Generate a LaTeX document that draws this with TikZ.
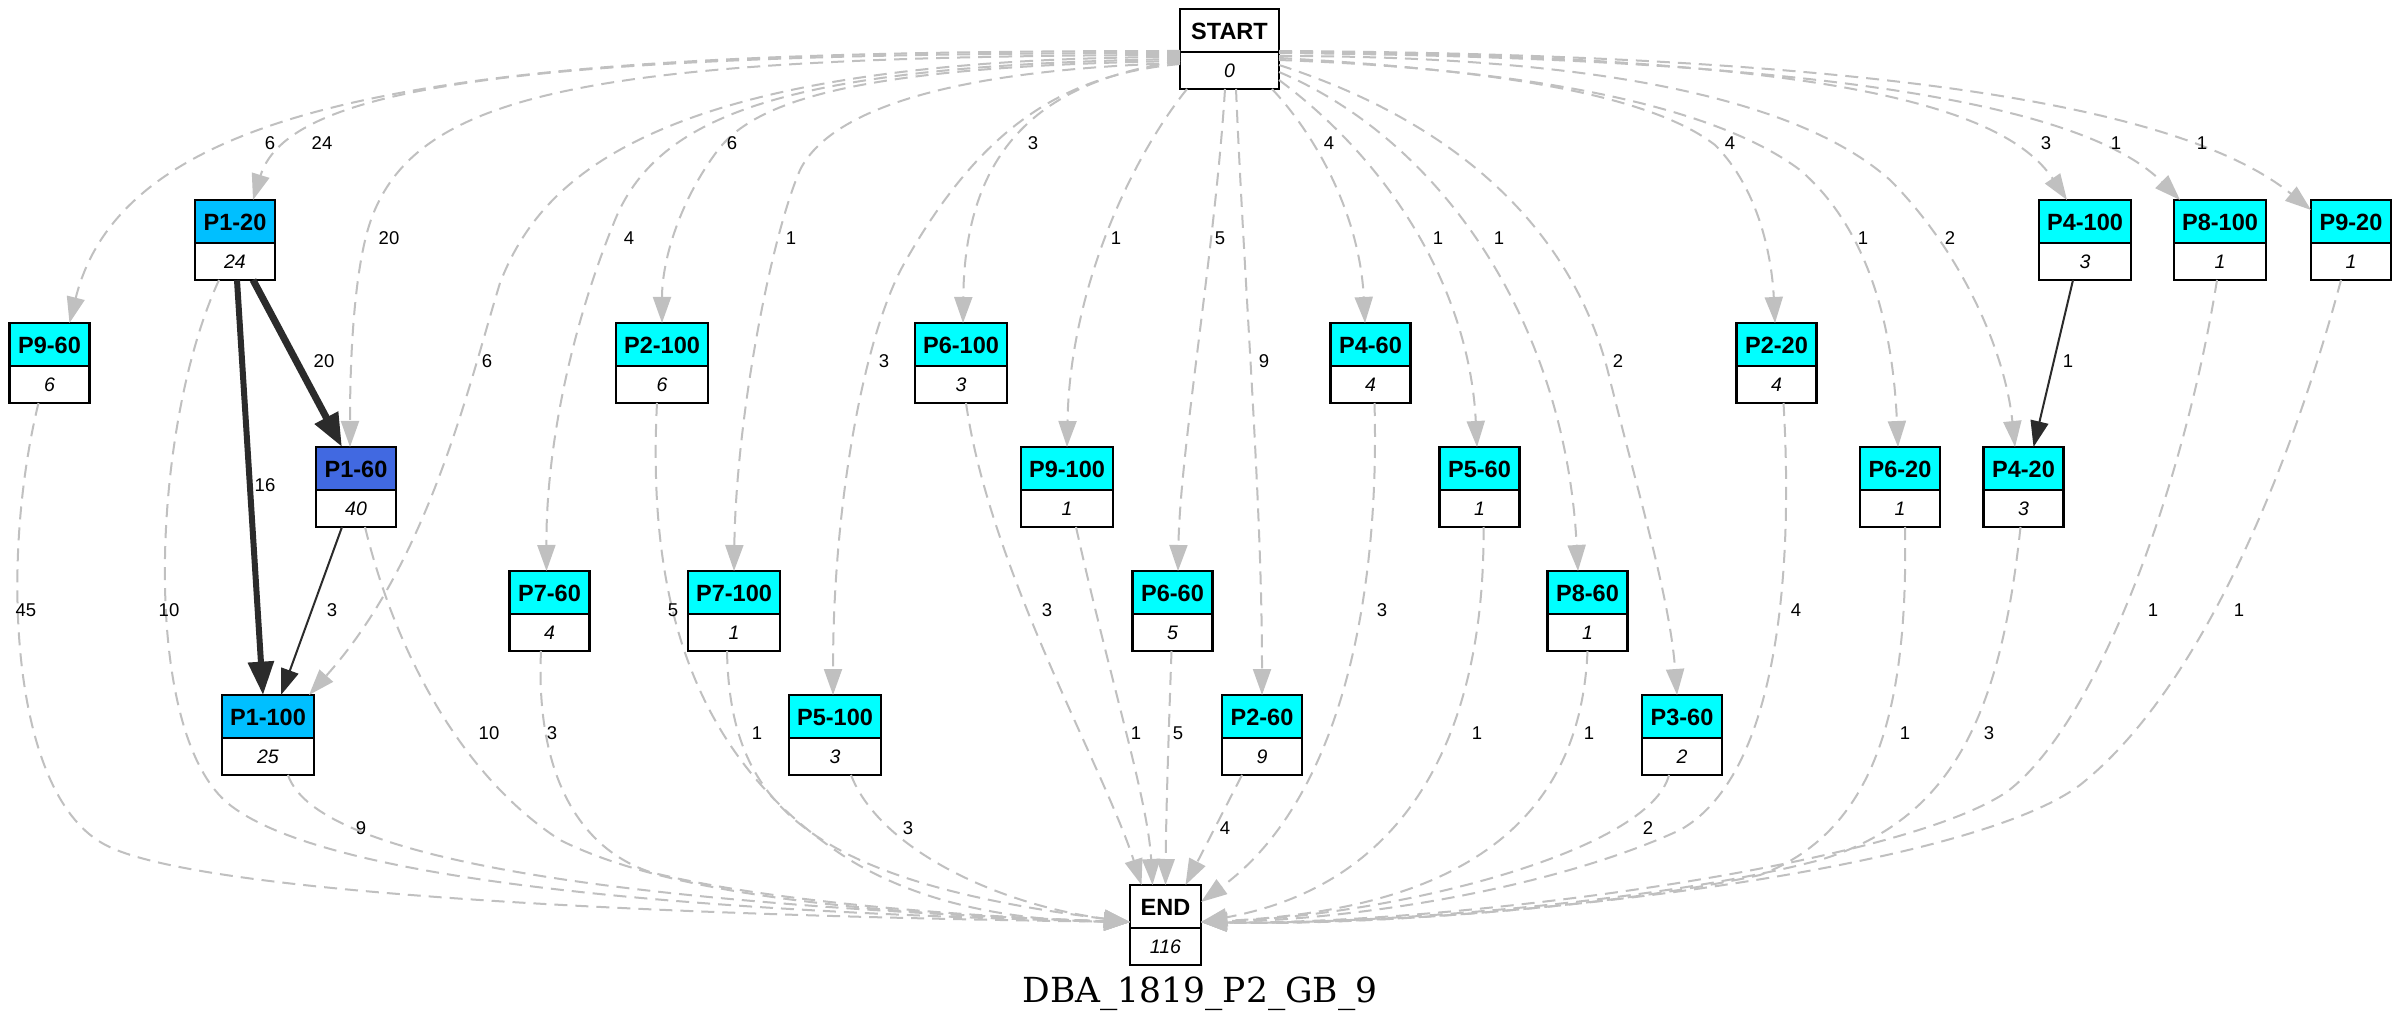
\documentclass[tikz,border=0pt]{standalone}
\usepackage{fontspec}
\newfontfamily\lsans{Liberation Sans}
\newfontfamily\dserif{DejaVu Serif}
\usetikzlibrary{arrows.meta,calc}
\definecolor{gedgec}{HTML}{C0C0C0}
\definecolor{dedgec}{HTML}{2B2B2B}
\definecolor{cyanfill}{HTML}{00FFFF}
\definecolor{deepsky}{HTML}{00BFFF}
\definecolor{royal}{HTML}{4169E1}
\tikzset{
  boxanchor/.style={anchor=north, inner sep=0, outer sep=0, minimum height=24bp},
  boxline/.style={draw=black, line width=0.75bp},
  lab/.style={font=\lsans\bfseries\fontsize{7.05bp}{8bp}\selectfont, inner sep=0},
  val/.style={font=\lsans\itshape\fontsize{5.85bp}{7bp}\selectfont, inner sep=0},
  elab/.style={font=\lsans\fontsize{5.55bp}{6.5bp}\selectfont, inner sep=0},
  ttl/.style={font=\dserif\fontsize{10.35bp}{12bp}\selectfont, inner sep=0, anchor=base},
  gedge/.style={draw=gedgec, line width=0.6bp, dash pattern=on 3.9bp off 2.4bp, -{Triangle[length=7.8bp,width=5.4bp]}},
  dedge/.style={draw=dedgec, line width=0.6bp, -{Triangle[length=7.8bp,width=5.4bp]}},
  hedge/.style={draw=dedgec, -{Triangle[length=10bp,width=7.5bp]}}
}
\newcommand{\mkbox}[7]{%
  \node[boxanchor, minimum width={#4*0.3bp}] (#1) at (#2,#3) {};
  \draw[boxline, fill=#5] (#1.north west) rectangle ($(#1.north east)+(0,43)$);
  \draw[boxline, fill=white] ($(#1.north west)+(0,43)$) rectangle (#1.south east);
  \node[lab] (#1l) at ($(#1.north)+(0,22)$) {#6};
  \node[val] (#1v) at ($(#1.north)+(0,61.5)$) {#7};
}
\begin{document}
\begin{tikzpicture}[x=0.3bp, y=-0.3bp]
\useasboundingbox (0,0) rectangle (2400,1032);
\fill[white] (0,0) rectangle (2400,1032);

% nodes
\mkbox{START}{1229.5}{9}{99}{white}{START}{0}
\mkbox{p1m20}{235}{200}{80}{deepsky}{P1-20}{24}
\mkbox{p4m100}{2085}{200}{92}{cyanfill}{P4-100}{3}
\mkbox{p8m100}{2220}{200}{92}{cyanfill}{P8-100}{1}
\mkbox{p9m20}{2351}{200}{80}{cyanfill}{P9-20}{1}
\mkbox{p9m60}{49.5}{323}{80}{cyanfill}{P9-60}{6}
\mkbox{p2m100}{662}{323}{92}{cyanfill}{P2-100}{6}
\mkbox{p6m100}{961}{323}{92}{cyanfill}{P6-100}{3}
\mkbox{p4m60}{1370.5}{323}{80}{cyanfill}{P4-60}{4}
\mkbox{p2m20}{1776.5}{323}{80}{cyanfill}{P2-20}{4}
\mkbox{p1m60}{356}{447}{80}{royal}{P1-60}{40}
\mkbox{p9m100}{1067}{447}{92}{cyanfill}{P9-100}{1}
\mkbox{p5m60}{1479.5}{447}{80}{cyanfill}{P5-60}{1}
\mkbox{p6m20}{1900}{447}{80}{cyanfill}{P6-20}{1}
\mkbox{p4m20}{2023.5}{447}{80}{cyanfill}{P4-20}{3}
\mkbox{p7m60}{549.5}{571}{80}{cyanfill}{P7-60}{4}
\mkbox{p7m100}{734}{571}{92}{cyanfill}{P7-100}{1}
\mkbox{p6m60}{1172.5}{571}{80}{cyanfill}{P6-60}{5}
\mkbox{p8m60}{1587.5}{571}{80}{cyanfill}{P8-60}{1}
\mkbox{p1m100}{268}{695}{92}{deepsky}{P1-100}{25}
\mkbox{p5m100}{835}{695}{92}{cyanfill}{P5-100}{3}
\mkbox{p2m60}{1262}{695}{80}{cyanfill}{P2-60}{9}
\mkbox{p3m60}{1682}{695}{80}{cyanfill}{P3-60}{2}
\mkbox{END}{1165.5}{885}{71}{white}{END}{116}

% START edges (left)
\draw[gedge] ($(START.west)+(0,2)$) .. controls (520,51) and (130,80) .. ($(p9m60.north)+(20,0)$);
\draw[gedge] ($(START.west)+(0,4)$) .. controls (560,53) and (290,80) .. ($(p1m20.north)+(18,0)$);
\draw[gedge] ($(START.west)+(0,6)$) .. controls (600,56) and (420,90) .. (372,217) .. controls (355,262) and (350,350) .. ($(p1m60.north)+(-6,0)$);
\draw[gedge] ($(START.west)+(0,8)$) .. controls (650,58) and (540,180) .. (500,283) .. controls (470,380) and (430,560) .. ($(p1m100.north east)+(-5,0)$);
\draw[gedge] ($(START.west)+(0,10)$) .. controls (800,65) and (660,110) .. (615,220) .. controls (570,330) and (546,450) .. ($(p7m60.north)+(-3,0)$);
\draw[gedge] ($(START.west)+(0,12)$) .. controls (880,66) and (760,95) .. (718,150) .. controls (680,200) and (662,260) .. (p2m100.north);
\draw[gedge] ($(START.west)+(0,14)$) .. controls (950,70) and (830,110) .. (800,170) .. controls (770,240) and (736,420) .. (p7m100.north);
\draw[gedge] ($(START.west)+(0,15)$) .. controls (1060,75) and (980,130) .. (905,262) .. controls (865,332) and (833,500) .. ($(p5m100.north)+(-2,0)$);
\draw[gedge] ($(START.west)+(0,12)$) .. controls (1050,80) and (965,140) .. ($(p6m100.north)+(2,0)$);
% START edges (down)
\draw[gedge] ($(START.south west)+(7,0)$) .. controls (1130,160) and (1070,290) .. (p9m100.north);
\draw[gedge] ($(START.south)+(-4.5,0)$) .. controls (1215,250) and (1180,450) .. ($(p6m60.north)+(5.5,0)$);
\draw[gedge] ($(START.south)+(6.5,0)$) .. controls (1245,300) and (1262,500) .. (p2m60.north);
\draw[gedge] ($(START.south east)+(-7,0)$) .. controls (1320,140) and (1360,220) .. ($(p4m60.north)+(-5.5,0)$);
% START edges (right)
\draw[gedge] ($(START.east)+(0,31)$) .. controls (1400,170) and (1470,300) .. ($(p5m60.north)+(-2.5,0)$);
\draw[gedge] ($(START.east)+(0,23)$) .. controls (1440,140) and (1565,320) .. ($(p8m60.north)+(-9.5,0)$);
\draw[gedge] ($(START.east)+(0,16)$) .. controls (1480,130) and (1580,250) .. (1610,380) .. controls (1640,500) and (1670,600) .. ($(p3m60.north)+(-5,0)$);
\draw[gedge] ($(START.east)+(0,9)$) .. controls (1500,70) and (1650,95) .. (1715,145) .. controls (1760,190) and (1772,260) .. ($(p2m20.north)+(-1.5,0)$);
\draw[gedge] ($(START.east)+(0,11)$) .. controls (1550,70) and (1720,110) .. (1800,170) .. controls (1870,230) and (1893,330) .. ($(p6m20.north)+(-2,0)$);
\draw[gedge] ($(START.east)+(0,7)$) .. controls (1600,56) and (1800,100) .. (1890,180) .. controls (1960,250) and (2005,350) .. ($(p4m20.north)+(-8.5,0)$);
\draw[gedge] ($(START.east)+(0,3)$) .. controls (1800,55) and (2000,100) .. ($(p4m100.north)+(-18,0)$);
\draw[gedge] ($(START.east)+(0,4)$) .. controls (1850,58) and (2090,110) .. ($(p8m100.north west)+(6,0)$);
\draw[gedge] ($(START.east)+(0,2)$) .. controls (1950,55) and (2200,120) .. ($(p9m20.north west)+(0,10)$);

% solid edges
\draw[hedge, line width=2.1bp] ($(p1m20.south)+(18,0)$) -- ($(p1m60.north)+(-14,0)$);
\draw[hedge, line width=1.8bp] ($(p1m20.south)+(2,0)$) -- ($(p1m100.north)+(-5,0)$);
\draw[dedge] ($(p1m60.south)+(-14,0)$) -- ($(p1m100.north)+(13,0)$);
\draw[dedge] ($(p4m100.south)+(-12,0)$) -- ($(p4m20.north)+(10,0)$);

% edges to END (left)
\draw[gedge] ($(p9m60.south)+(-11,0)$) .. controls (0,560) and (10,790) .. (102,843) .. controls (180,890) and (600,915) .. ($(END.west)+(0,-3)$);
\draw[gedge] ($(p1m20.south)+(-16,0)$) .. controls (150,430) and (140,735) .. (230,805) .. controls (330,883) and (700,912) .. ($(END.west)+(0,-3)$);
\draw[gedge] ($(p1m60.south)+(9,0)$) .. controls (395,650) and (460,775) .. (560,840) .. controls (680,900) and (900,915) .. ($(END.west)+(0,-3)$);
\draw[gedge] ($(p1m100.south)+(20,0)$) .. controls (310,840) and (500,900) .. ($(END.west)+(0,-3)$);
\draw[gedge] ($(p7m60.south)+(-8.5,0)$) .. controls (536,760) and (570,845) .. (650,872) .. controls (780,905) and (1000,918) .. ($(END.west)+(0,-3)$);
\draw[gedge] ($(p2m100.south)+(-5,0)$) .. controls (647,600) and (692,760) .. (850,860) .. controls (940,915) and (1050,921) .. ($(END.west)+(0,-3)$);
\draw[gedge] ($(p7m100.south)+(-7,0)$) .. controls (730,800) and (800,880) .. ($(END.west)+(0,-3)$);
\draw[gedge] ($(p5m100.south)+(16,0)$) .. controls (880,850) and (1000,905) .. ($(END.west)+(0,-3)$);
% edges to END (top)
\draw[gedge] ($(p6m100.south)+(5,0)$) .. controls (990,570) and (1105,770) .. ($(END.north)+(-24,0)$);
\draw[gedge] ($(p9m100.south)+(9,0)$) .. controls (1110,680) and (1148,800) .. ($(END.north)+(-13,0)$);
\draw[gedge] ($(p6m60.south)+(-1,0)$) .. controls (1168,750) and (1166,820) .. (END.north);
\draw[gedge] ($(p2m60.south)+(-20,0)$) -- ($(END.north)+(20,0)$);
\draw[gedge] ($(p4m60.south)+(4,0)$) .. controls (1380,600) and (1340,800) .. ($(END.north east)+(0,17)$);
% edges to END (right)
\draw[gedge] ($(p5m60.south)+(4,0)$) .. controls (1485,700) and (1430,880) .. ($(END.east)+(0,-3)$);
\draw[gedge] (p8m60.south) .. controls (1580,830) and (1450,910) .. ($(END.east)+(0,-3)$);
\draw[gedge] ($(p3m60.south)+(-13,0)$) .. controls (1650,850) and (1400,915) .. ($(END.east)+(0,-3)$);
\draw[gedge] ($(p2m20.south)+(7,0)$) .. controls (1795,600) and (1770,780) .. (1680,830) .. controls (1550,890) and (1350,920) .. ($(END.east)+(0,-3)$);
\draw[gedge] ($(p6m20.south)+(5,0)$) .. controls (1908,700) and (1880,830) .. (1760,875) .. controls (1600,910) and (1350,925) .. ($(END.east)+(0,-3)$);
\draw[gedge] ($(p4m20.south)+(-3,0)$) .. controls (2000,720) and (1950,820) .. (1820,860) .. controls (1650,905) and (1350,925) .. ($(END.east)+(0,-3)$);
\draw[gedge] ($(p8m100.south)+(-3,0)$) .. controls (2185,480) and (2100,720) .. (2008,791) .. controls (1900,866) and (1450,925) .. ($(END.east)+(0,-3)$);
\draw[gedge] ($(p9m20.south)+(-10,0)$) .. controls (2290,470) and (2200,690) .. (2080,785) .. controls (1960,875) and (1450,928) .. ($(END.east)+(0,-3)$);

% edge labels
\node[elab] (l1) at (270,143) {6};
\node[elab] (l2) at (322,143) {24};
\node[elab] (l3) at (389,238) {20};
\node[elab] (l4) at (487,361) {6};
\node[elab] (l5) at (629,238) {4};
\node[elab] (l6) at (732,143) {6};
\node[elab] (l7) at (791,238) {1};
\node[elab] (l8) at (884,361) {3};
\node[elab] (l9) at (1033,143) {3};
\node[elab] (l10) at (1116,238) {1};
\node[elab] (l11) at (1220,238) {5};
\node[elab] (l12) at (1264,361) {9};
\node[elab] (l13) at (1329,143) {4};
\node[elab] (l14) at (1438,238) {1};
\node[elab] (l15) at (1499,238) {1};
\node[elab] (l16) at (1618,361) {2};
\node[elab] (l17) at (1730,143) {4};
\node[elab] (l18) at (1863,238) {1};
\node[elab] (l19) at (1950,238) {2};
\node[elab] (l20) at (2046,143) {3};
\node[elab] (l21) at (2116,143) {1};
\node[elab] (l22) at (2202,143) {1};
\node[elab] (l23) at (324,361) {20};
\node[elab] (l24) at (265,485) {16};
\node[elab] (l25) at (332,610) {3};
\node[elab] (l26) at (2068,361) {1};
\node[elab] (l27) at (26,610) {45};
\node[elab] (l28) at (169,610) {10};
\node[elab] (l29) at (489,733) {10};
\node[elab] (l30) at (361,828) {9};
\node[elab] (l31) at (552,733) {3};
\node[elab] (l32) at (673,610) {5};
\node[elab] (l33) at (757,733) {1};
\node[elab] (l34) at (908,828) {3};
\node[elab] (l35) at (1047,610) {3};
\node[elab] (l36) at (1136,733) {1};
\node[elab] (l37) at (1178,733) {5};
\node[elab] (l38) at (1225,828) {4};
\node[elab] (l39) at (1382,610) {3};
\node[elab] (l40) at (1477,733) {1};
\node[elab] (l41) at (1589,733) {1};
\node[elab] (l42) at (1648,828) {2};
\node[elab] (l43) at (1796,610) {4};
\node[elab] (l44) at (1905,733) {1};
\node[elab] (l45) at (1989,733) {3};
\node[elab] (l46) at (2153,610) {1};
\node[elab] (l47) at (2239,610) {1};

% title
\node[ttl] (title) at (1200,1002) {DBA\_1819\_P2\_GB\_9};
\end{tikzpicture}
\end{document}
